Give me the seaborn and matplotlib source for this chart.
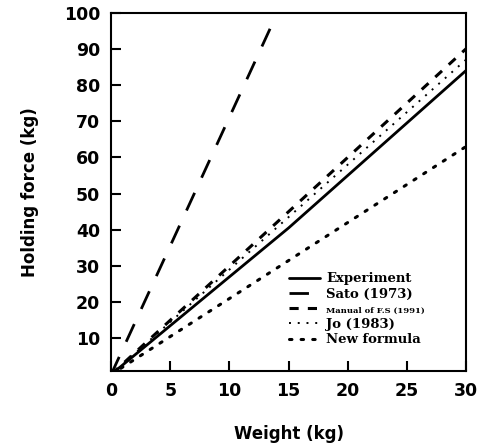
import numpy as np
import pandas as pd
import matplotlib
matplotlib.use("Agg")
import matplotlib.pyplot as plt
import seaborn as sns

sns.set_theme(style="ticks")
plt.rcParams['font.family'] = ['DejaVu Sans']
plt.rcParams['text.color'] = 'black'
plt.rcParams['axes.labelcolor'] = 'black'
plt.rcParams['xtick.color'] = 'black'
plt.rcParams['ytick.color'] = 'black'

# Data
weight = [0, 5, 10, 15, 20, 25, 30]
experiment = [0, 13.5, 27, 40.5, 55, 69.5, 84]
manual_fs = [0, 15, 30, 45, 60, 75, 90]
jo = [0, 14.5, 29, 43.5, 58, 72.5, 87]
new_formula = [0, 10.5, 21, 31.5, 42, 52.5, 63]
sato_weight = [0, 13.5]
sato = [0, 96]

labels = ["Experiment", "Sato (1973)", "Manual of F.S (1991)", "Jo (1983)", "New formula"]
xticks = [0, 5, 10, 15, 20, 25, 30]
yticks = [10, 20, 30, 40, 50, 60, 70, 80, 90, 100]

fig = plt.figure(figsize=(4.83, 4.48), dpi=100)
ax = fig.add_axes([0.23, 0.172, 0.735, 0.8])

sns.lineplot(x=weight, y=experiment, ax=ax, color="black", lw=2.0, label=labels[0])
sns.lineplot(x=sato_weight, y=sato, ax=ax, color="black", lw=2.0, label=labels[1])
ax.lines[-1].set_dashes((7, 6))
sns.lineplot(x=weight, y=manual_fs, ax=ax, color="black", lw=2.2, label=labels[2])
ax.lines[-1].set_dashes((3, 3))
sns.lineplot(x=weight, y=jo, ax=ax, color="black", lw=1.4, label=labels[3])
ax.lines[-1].set_dashes((1, 3.5))
sns.lineplot(x=weight, y=new_formula, ax=ax, color="black", lw=2.2, label=labels[4])
ax.lines[-1].set_dashes((0.8, 3))
ax.lines[-1].set_dash_capstyle("round")

ax.set_xlim(0, 30)
ax.set_ylim(1, 100)
ax.set_xticks(xticks)
ax.set_yticks(yticks)
ax.tick_params(direction="in", length=7, width=1.5, labelsize=12.5, pad=8)
for t in ax.get_xticklabels() + ax.get_yticklabels():
    t.set_fontweight("bold")
for s in ax.spines.values():
    s.set_linewidth(1.5)
    s.set_color("black")

ax.set_xlabel("Weight (kg)", fontsize=12, fontweight="bold", labelpad=18)
ax.set_ylabel("Holding force (kg)", fontsize=12, fontweight="bold", labelpad=18)

leg = ax.legend(loc="upper left", bbox_to_anchor=(0.5, 0.275), frameon=False,
                borderaxespad=0, borderpad=0,
                handlelength=2.4, handletextpad=0.45, labelspacing=0.2,
                prop={"size": 9.5, "weight": "bold", "family": "DejaVu Serif"})
for t in leg.get_texts():
    if t.get_text().startswith("Manual"):
        t.set_fontsize(6)

fig.savefig("out.png", dpi=100)
